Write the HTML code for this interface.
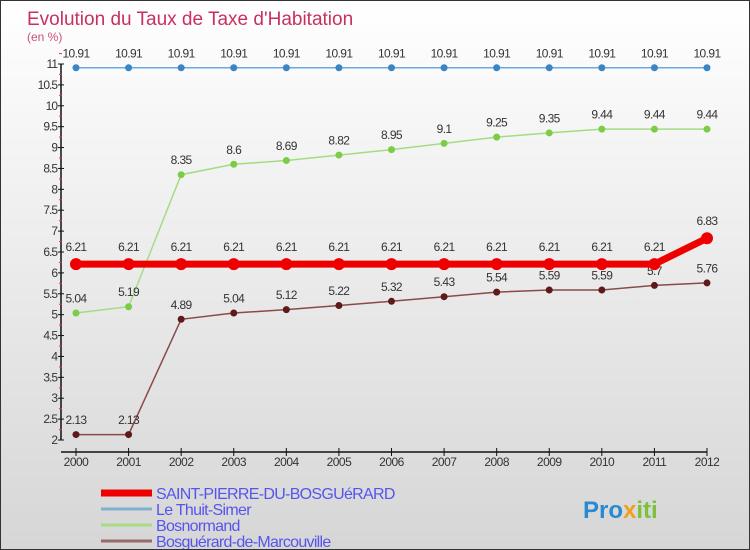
<!DOCTYPE html>
<html><head><meta charset="utf-8"><style>
body{margin:0;}
#c{width:750px;height:550px;position:relative;box-sizing:border-box;border:1px solid #333;background:linear-gradient(#ffffff,#d6d6d6);font-family:"Liberation Sans",sans-serif;overflow:hidden;}
svg{position:absolute;left:0;top:0;}
</style></head><body>
<div id="c">
<svg id="s" width="750" height="550">
<text x="26" y="24" font-size="19" fill="#c8305e">Evolution du Taux de Taxe d'Habitation</text>
<text x="26" y="40" font-size="12" fill="#c8507e">(en %)</text>
</svg>
</div>
<script>
const years=[2000,2001,2002,2003,2004,2005,2006,2007,2008,2009,2010,2011,2012];
const stPierre=[6.21,6.21,6.21,6.21,6.21,6.21,6.21,6.21,6.21,6.21,6.21,6.21,6.83];
const thuit=[10.91,10.91,10.91,10.91,10.91,10.91,10.91,10.91,10.91,10.91,10.91,10.91,10.91];
const bosnormand=[5.04,5.19,8.35,8.6,8.69,8.82,8.95,9.1,9.25,9.35,9.44,9.44,9.44];
const marcouville=[2.13,2.13,4.89,5.04,5.12,5.22,5.32,5.43,5.54,5.59,5.59,5.7,5.76];
const yTicks=[2,2.5,3,3.5,4,4.5,5,5.5,6,6.5,7,7.5,8,8.5,9,9.5,10,10.5,11];
const names=["SAINT-PIERRE-DU-BOSGUéRARD","Le Thuit-Simer","Bosnormand","Bosguérard-de-Marcouville"];
const NS="http://www.w3.org/2000/svg";
const s=document.getElementById('s');
const X=i=>75+i*(706-75)/(years.length-1);
const Y=v=>439-(v-2)*(439-63)/9;
function el(t,a,p){const e=document.createElementNS(NS,t);for(const k in a)e.setAttribute(k,a[k]);(p||s).appendChild(e);return e;}
const ax=el('path',{d:'M60,63 V439 M60,451 H706',stroke:'#111','stroke-width':1.5,fill:'none'});


yTicks.forEach(v=>{
 const l=el('line',{x1:57,x2:63,y1:Y(v),y2:Y(v),stroke:'#111'});
 
 
 const m=el('line',{x1:58,x2:61,y1:Y(v+0.25),y2:Y(v+0.25),stroke:'#e33'});
 
 
 const t=el('text',{x:56,y:Y(v)+4,'font-size':12,'text-anchor':'end',fill:'#333','letter-spacing':'-1'});
 t.textContent=String(v);
 
 
});
years.forEach((y,i)=>{
 const l=el('line',{x1:X(i),x2:X(i),y1:447,y2:455,stroke:'#111'});
 
 
 const t=el('text',{x:X(i),y:465,'font-size':12,'text-anchor':'middle',fill:'#333','letter-spacing':'-0.5'});
 t.textContent=y;
 
 
});
function series(vals,color,dot,w,r,key){
 const p=el('polyline',{points:vals.map((v,i)=>X(i)+','+Y(v)).join(' '),stroke:color,'stroke-width':w,fill:'none'});
 
 
 vals.forEach((v,i)=>{
  const c=el('circle',{cx:X(i),cy:Y(v),r:r,fill:dot});
  
  
  const t=el('text',{x:X(i),y:Y(v)-(r+7),'font-size':12,'text-anchor':'middle',fill:'#333','letter-spacing':'-0.6'});
  t.textContent=String(v);
  
  
 });
}
series(thuit,'#6fa8dc','#3a85c4',1.5,3.5,'thuit');
series(bosnormand,'#a4dc84','#7ccc48',1.5,3.5,'bosnormand');
series(marcouville,'#8a4a4a','#5e1a1a',1.5,3.5,'marcouville');
series(stPierre,'#ee0000','#ee0000',7,6,'saint-pierre');
const lc=['#ee0000','#7fb0d0','#a4dc84','#9a6a6a'],lw=[7,3,3,3];
names.forEach((n,i)=>{
 const y=492+i*16;
 const l=el('line',{x1:100,x2:151,y1:y,y2:y,stroke:lc[i],'stroke-width':lw[i]});
 
 
 const t=el('text',{x:155,y:y+6,'font-size':16,fill:'#5555ee','letter-spacing':'-0.7'});
 t.textContent=n;
 
 
});
const logo=el('text',{x:582,y:517,'font-size':24,'font-weight':'bold',fill:'#2a8ad0'});
logo.innerHTML='<tspan fill="#2a8ad0">Pro</tspan><tspan fill="#f0a020">x</tspan><tspan fill="#7cc040">iti</tspan>';


</script>
</body></html>
